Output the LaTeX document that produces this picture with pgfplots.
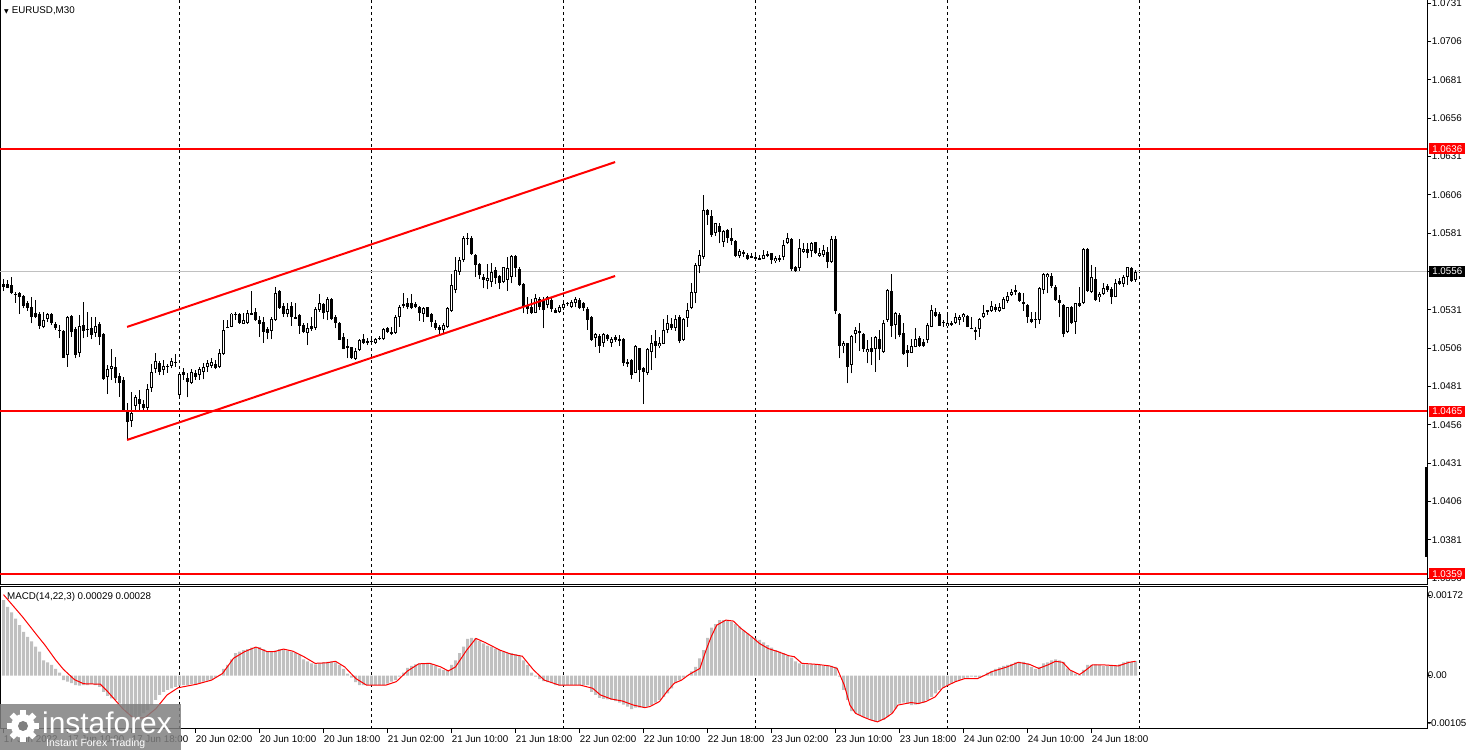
\documentclass[border=0pt]{standalone}
\usepackage{fontspec}
\setmainfont{Liberation Sans}
\newfontfamily\dejavu{DejaVu Sans}
\usepackage{pgfplots}
\usepackage{pgfplotstable}
\pgfplotsset{compat=1.18}

\definecolor{silver}{RGB}{192,192,192}
\definecolor{mtred}{RGB}{255,0,0}
\newcommand\mtfont{\fontsize{9.8}{11}\selectfont}

% EURUSD M30 candles: index, open, high, low, close
\pgfplotstableread{
n o h l c
0 1.05479 1.05511 1.05433 1.05461
1 1.05477 1.05505 1.05450 1.05457
2 1.05472 1.05522 1.05413 1.05418
3 1.05413 1.05429 1.05357 1.05411
4 1.05418 1.05429 1.05283 1.05392
5 1.05400 1.05407 1.05320 1.05335
6 1.05357 1.05370 1.05305 1.05320
7 1.05331 1.05396 1.05222 1.05266
8 1.05287 1.05374 1.05255 1.05266
9 1.05281 1.05298 1.05185 1.05207
10 1.05200 1.05298 1.05190 1.05244
11 1.05248 1.05292 1.05233 1.05281
12 1.05287 1.05292 1.05211 1.05222
13 1.05222 1.05233 1.05179 1.05190
14 1.05179 1.05211 1.05124 1.05174
15 1.05174 1.05179 1.04998 1.04998
16 1.05016 1.05270 1.04940 1.05266
17 1.05270 1.05277 1.05135 1.05168
18 1.05185 1.05200 1.04994 1.05016
19 1.05031 1.05277 1.05000 1.05207
20 1.05209 1.05363 1.05124 1.05174
21 1.05190 1.05298 1.05135 1.05179
22 1.05190 1.05266 1.05118 1.05146
23 1.05157 1.05266 1.05135 1.05207
24 1.05218 1.05233 1.05081 1.05135
25 1.05153 1.05157 1.04853 1.04859
26 1.04870 1.04950 1.04761 1.04924
27 1.04926 1.05053 1.04853 1.04948
28 1.04940 1.05005 1.04831 1.04870
29 1.04879 1.04900 1.04744 1.04837
30 1.04853 1.04874 1.04653 1.04657
31 1.04657 1.04700 1.04461 1.04581
32 1.04587 1.04776 1.04548 1.04640
33 1.04683 1.04755 1.04657 1.04744
34 1.04733 1.04787 1.04657 1.04696
35 1.04696 1.04722 1.04653 1.04668
36 1.04674 1.04826 1.04657 1.04792
37 1.04798 1.04957 1.04776 1.04907
38 1.04922 1.05031 1.04900 1.04979
39 1.04966 1.04977 1.04885 1.04907
40 1.04918 1.04983 1.04885 1.04944
41 1.04940 1.04957 1.04900 1.04942
42 1.04944 1.04994 1.04929 1.04979
43 1.04966 1.05022 1.04940 1.04968
44 1.04755 1.04907 1.04748 1.04892
45 1.04903 1.04929 1.04853 1.04885
46 1.04870 1.04896 1.04740 1.04842
47 1.04835 1.04922 1.04826 1.04907
48 1.04903 1.04918 1.04853 1.04874
49 1.04885 1.04940 1.04853 1.04922
50 1.04907 1.04966 1.04857 1.04935
51 1.04940 1.04983 1.04907 1.04966
52 1.04944 1.04994 1.04929 1.04970
53 1.04961 1.04983 1.04922 1.04929
54 1.04940 1.05053 1.04929 1.05031
55 1.05022 1.05244 1.05016 1.05183
56 1.05196 1.05244 1.05190 1.05200
57 1.05200 1.05292 1.05196 1.05287
58 1.05287 1.05298 1.05244 1.05277
59 1.05281 1.05292 1.05218 1.05227
60 1.05222 1.05292 1.05218 1.05244
61 1.05227 1.05309 1.05218 1.05287
62 1.05287 1.05433 1.05277 1.05283
63 1.05298 1.05324 1.05240 1.05248
64 1.05244 1.05270 1.05135 1.05222
65 1.05233 1.05266 1.05096 1.05168
66 1.05183 1.05200 1.05118 1.05157
67 1.05174 1.05266 1.05118 1.05248
68 1.05244 1.05457 1.05240 1.05418
69 1.05433 1.05440 1.05316 1.05324
70 1.05335 1.05353 1.05266 1.05287
71 1.05287 1.05353 1.05261 1.05320
72 1.05335 1.05363 1.05207 1.05266
73 1.05255 1.05353 1.05248 1.05266
74 1.05277 1.05281 1.05153 1.05205
75 1.05211 1.05222 1.05157 1.05168
76 1.05157 1.05222 1.05081 1.05190
77 1.05207 1.05261 1.05174 1.05185
78 1.05190 1.05331 1.05179 1.05320
79 1.05309 1.05413 1.05298 1.05353
80 1.05346 1.05353 1.05248 1.05287
81 1.05298 1.05396 1.05244 1.05385
82 1.05379 1.05385 1.05244 1.05248
83 1.05266 1.05277 1.05190 1.05227
84 1.05227 1.05233 1.05113 1.05118
85 1.05135 1.05157 1.05053 1.05059
86 1.05076 1.05118 1.04994 1.05059
87 1.05066 1.05070 1.04990 1.04994
88 1.04994 1.05059 1.04983 1.05042
89 1.05048 1.05118 1.05044 1.05113
90 1.05118 1.05153 1.05087 1.05092
91 1.05107 1.05124 1.05081 1.05096
92 1.05107 1.05118 1.05092 1.05109
93 1.05096 1.05129 1.05087 1.05118
94 1.05124 1.05140 1.05113 1.05126
95 1.05118 1.05190 1.05113 1.05183
96 1.05190 1.05200 1.05161 1.05168
97 1.05157 1.05200 1.05146 1.05168
98 1.05157 1.05277 1.05153 1.05266
99 1.05266 1.05342 1.05200 1.05331
100 1.05342 1.05418 1.05320 1.05344
101 1.05353 1.05385 1.05313 1.05327
102 1.05353 1.05411 1.05313 1.05324
103 1.05348 1.05363 1.05320 1.05331
104 1.05331 1.05335 1.05240 1.05287
105 1.05283 1.05327 1.05233 1.05320
106 1.05327 1.05331 1.05261 1.05266
107 1.05281 1.05292 1.05200 1.05233
108 1.05227 1.05244 1.05179 1.05190
109 1.05200 1.05211 1.05140 1.05179
110 1.05183 1.05222 1.05153 1.05211
111 1.05200 1.05331 1.05190 1.05320
112 1.05305 1.05544 1.05298 1.05472
113 1.05440 1.05653 1.05418 1.05570
114 1.05559 1.05653 1.05537 1.05635
115 1.05635 1.05792 1.05624 1.05783
116 1.05777 1.05813 1.05733 1.05779
117 1.05777 1.05792 1.05668 1.05674
118 1.05668 1.05674 1.05527 1.05603
119 1.05609 1.05618 1.05509 1.05537
120 1.05522 1.05544 1.05450 1.05505
121 1.05500 1.05609 1.05444 1.05522
122 1.05494 1.05613 1.05461 1.05559
123 1.05570 1.05587 1.05479 1.05522
124 1.05531 1.05537 1.05444 1.05483
125 1.05494 1.05592 1.05483 1.05587
126 1.05505 1.05657 1.05435 1.05587
127 1.05527 1.05668 1.05483 1.05661
128 1.05661 1.05668 1.05527 1.05581
129 1.05581 1.05587 1.05466 1.05472
130 1.05479 1.05483 1.05287 1.05335
131 1.05342 1.05396 1.05283 1.05320
132 1.05331 1.05379 1.05283 1.05287
133 1.05292 1.05413 1.05287 1.05392
134 1.05385 1.05396 1.05309 1.05331
135 1.05374 1.05396 1.05190 1.05309
136 1.05342 1.05400 1.05320 1.05396
137 1.05379 1.05385 1.05298 1.05320
138 1.05309 1.05320 1.05287 1.05292
139 1.05298 1.05342 1.05292 1.05331
140 1.05320 1.05357 1.05309 1.05346
141 1.05353 1.05363 1.05335 1.05355
142 1.05331 1.05374 1.05320 1.05363
143 1.05353 1.05396 1.05327 1.05385
144 1.05374 1.05385 1.05313 1.05320
145 1.05353 1.05363 1.05305 1.05320
146 1.05320 1.05331 1.05179 1.05244
147 1.05266 1.05270 1.05109 1.05113
148 1.05131 1.05157 1.05070 1.05153
149 1.05140 1.05153 1.05031 1.05074
150 1.05092 1.05157 1.05070 1.05153
151 1.05146 1.05153 1.05109 1.05118
152 1.05092 1.05135 1.05070 1.05118
153 1.05135 1.05146 1.05103 1.05113
154 1.05118 1.05146 1.05074 1.05116
155 1.05118 1.05124 1.04944 1.04966
156 1.04972 1.04987 1.04940 1.04957
157 1.04983 1.04987 1.04857 1.04885
158 1.04900 1.05081 1.04896 1.05074
159 1.05059 1.05063 1.04842 1.04918
160 1.04929 1.04940 1.04696 1.04907
161 1.04900 1.05059 1.04885 1.05053
162 1.05037 1.05146 1.04918 1.05096
163 1.05109 1.05179 1.04994 1.05074
164 1.05074 1.05135 1.05059 1.05092
165 1.05092 1.05248 1.05087 1.05183
166 1.05179 1.05277 1.05157 1.05222
167 1.05218 1.05255 1.05179 1.05190
168 1.05190 1.05277 1.05174 1.05248
169 1.05261 1.05277 1.05092 1.05109
170 1.05113 1.05255 1.05109 1.05248
171 1.05261 1.05353 1.05200 1.05309
172 1.05320 1.05483 1.05313 1.05429
173 1.05418 1.05613 1.05353 1.05603
174 1.05596 1.05700 1.05548 1.05668
175 1.05657 1.06059 1.05640 1.05966
176 1.05961 1.05966 1.05864 1.05929
177 1.05922 1.05961 1.05787 1.05798
178 1.05809 1.05879 1.05792 1.05874
179 1.05857 1.05879 1.05744 1.05820
180 1.05755 1.05831 1.05722 1.05827
181 1.05831 1.05835 1.05748 1.05777
182 1.05777 1.05846 1.05733 1.05761
183 1.05759 1.05766 1.05653 1.05661
184 1.05661 1.05705 1.05646 1.05696
185 1.05690 1.05700 1.05657 1.05679
186 1.05668 1.05679 1.05635 1.05646
187 1.05657 1.05679 1.05646 1.05655
188 1.05653 1.05668 1.05640 1.05650
189 1.05650 1.05668 1.05635 1.05640
190 1.05646 1.05700 1.05640 1.05668
191 1.05674 1.05696 1.05653 1.05661
192 1.05679 1.05683 1.05609 1.05635
193 1.05629 1.05661 1.05618 1.05650
194 1.05646 1.05668 1.05624 1.05635
195 1.05657 1.05766 1.05635 1.05733
196 1.05748 1.05813 1.05740 1.05777
197 1.05770 1.05777 1.05566 1.05574
198 1.05587 1.05596 1.05559 1.05566
199 1.05581 1.05770 1.05566 1.05711
200 1.05690 1.05744 1.05683 1.05711
201 1.05711 1.05748 1.05646 1.05683
202 1.05696 1.05755 1.05653 1.05744
203 1.05750 1.05755 1.05674 1.05679
204 1.05666 1.05711 1.05657 1.05683
205 1.05668 1.05733 1.05657 1.05700
206 1.05690 1.05722 1.05581 1.05624
207 1.05624 1.05792 1.05618 1.05777
208 1.05770 1.05792 1.05283 1.05305
209 1.05287 1.05292 1.04994 1.05074
210 1.05074 1.05109 1.05027 1.05096
211 1.05092 1.05096 1.04831 1.04940
212 1.04950 1.05146 1.04896 1.05140
213 1.05153 1.05200 1.05092 1.05183
214 1.05168 1.05222 1.05044 1.05170
215 1.05157 1.05161 1.05037 1.05053
216 1.05037 1.05113 1.04961 1.05053
217 1.05059 1.05135 1.04950 1.05037
218 1.05059 1.05140 1.04907 1.05135
219 1.05124 1.05179 1.04983 1.05059
220 1.05037 1.05244 1.05031 1.05227
221 1.05244 1.05444 1.05233 1.05440
222 1.05433 1.05544 1.05135 1.05205
223 1.05211 1.05298 1.05118 1.05287
224 1.05281 1.05287 1.05131 1.05146
225 1.05157 1.05227 1.05016 1.05022
226 1.05048 1.05081 1.04940 1.05031
227 1.05031 1.05118 1.05027 1.05076
228 1.05070 1.05190 1.05066 1.05118
229 1.05131 1.05140 1.05070 1.05074
230 1.05103 1.05118 1.05070 1.05074
231 1.05113 1.05222 1.05092 1.05211
232 1.05200 1.05342 1.05196 1.05309
233 1.05298 1.05320 1.05261 1.05270
234 1.05283 1.05298 1.05205 1.05207
235 1.05227 1.05244 1.05200 1.05229
236 1.05207 1.05277 1.05190 1.05222
237 1.05220 1.05240 1.05207 1.05222
238 1.05227 1.05292 1.05218 1.05266
239 1.05244 1.05277 1.05211 1.05266
240 1.05266 1.05287 1.05233 1.05281
241 1.05270 1.05277 1.05196 1.05200
242 1.05190 1.05261 1.05183 1.05192
243 1.05183 1.05200 1.05113 1.05168
244 1.05183 1.05255 1.05135 1.05248
245 1.05261 1.05342 1.05255 1.05292
246 1.05303 1.05309 1.05277 1.05305
247 1.05305 1.05370 1.05298 1.05335
248 1.05331 1.05348 1.05298 1.05309
249 1.05305 1.05357 1.05298 1.05331
250 1.05320 1.05396 1.05313 1.05385
251 1.05370 1.05429 1.05357 1.05400
252 1.05407 1.05444 1.05400 1.05429
253 1.05440 1.05472 1.05407 1.05429
254 1.05422 1.05429 1.05363 1.05370
255 1.05363 1.05422 1.05305 1.05353
256 1.05342 1.05348 1.05227 1.05261
257 1.05248 1.05298 1.05222 1.05233
258 1.05248 1.05298 1.05190 1.05250
259 1.05244 1.05461 1.05218 1.05450
260 1.05440 1.05548 1.05413 1.05542
261 1.05527 1.05548 1.05418 1.05542
262 1.05531 1.05548 1.05450 1.05466
263 1.05461 1.05472 1.05370 1.05374
264 1.05374 1.05407 1.05261 1.05353
265 1.05342 1.05348 1.05131 1.05153
266 1.05168 1.05331 1.05161 1.05327
267 1.05327 1.05335 1.05218 1.05227
268 1.05233 1.05357 1.05153 1.05353
269 1.05357 1.05461 1.05331 1.05335
270 1.05353 1.05716 1.05348 1.05711
271 1.05705 1.05711 1.05429 1.05433
272 1.05429 1.05603 1.05422 1.05522
273 1.05509 1.05587 1.05370 1.05374
274 1.05392 1.05429 1.05363 1.05413
275 1.05413 1.05487 1.05407 1.05457
276 1.05466 1.05479 1.05429 1.05440
277 1.05450 1.05457 1.05348 1.05392
278 1.05396 1.05509 1.05392 1.05487
279 1.05500 1.05516 1.05472 1.05483
280 1.05479 1.05537 1.05461 1.05522
281 1.05522 1.05592 1.05472 1.05587
282 1.05581 1.05587 1.05494 1.05500
283 1.05505 1.05570 1.05494 1.05559
}\candles

% MACD(14,22,3) main line (histogram)
\pgfplotstableread{
n v
0 0.00148
1 0.00135
2 0.00124
3 0.00112
4 0.00099
5 0.00086
6 0.00076
7 0.00067
8 0.00057
9 0.00047
10 0.00030
11 0.00026
12 0.00021
13 0.00013
14 0.00006
15 -0.00009
16 -0.00012
17 -0.00015
18 -0.00019
19 -0.00020
20 -0.00019
21 -0.00019
22 -0.00017
23 -0.00019
24 -0.00022
25 -0.00032
26 -0.00040
27 -0.00045
28 -0.00048
29 -0.00055
30 -0.00065
31 -0.00074
32 -0.00081
33 -0.00084
34 -0.00079
35 -0.00074
36 -0.00068
37 -0.00058
38 -0.00048
39 -0.00038
40 -0.00032
41 -0.00028
42 -0.00025
43 -0.00022
44 -0.00020
45 -0.00019
46 -0.00019
47 -0.00017
48 -0.00017
49 -0.00015
50 -0.00012
51 -0.00010
52 -0.00008
53 -0.00004
54 0.00001
55 0.00013
56 0.00021
57 0.00032
58 0.00044
59 0.00047
60 0.00050
61 0.00052
62 0.00055
63 0.00056
64 0.00056
65 0.00052
66 0.00048
67 0.00047
68 0.00049
69 0.00052
70 0.00051
71 0.00049
72 0.00047
73 0.00044
74 0.00040
75 0.00032
76 0.00028
77 0.00024
78 0.00022
79 0.00024
80 0.00026
81 0.00027
82 0.00028
83 0.00026
84 0.00021
85 0.00013
86 0.00004
87 -0.00004
88 -0.00013
89 -0.00019
90 -0.00019
91 -0.00019
92 -0.00019
93 -0.00019
94 -0.00019
95 -0.00019
96 -0.00016
97 -0.00012
98 -0.00009
99 -0.00002
100 0.00006
101 0.00015
102 0.00019
103 0.00022
104 0.00024
105 0.00024
106 0.00024
107 0.00023
108 0.00019
109 0.00014
110 0.00011
111 0.00011
112 0.00021
113 0.00030
114 0.00044
115 0.00057
116 0.00072
117 0.00074
118 0.00073
119 0.00068
120 0.00063
121 0.00059
122 0.00057
123 0.00053
124 0.00050
125 0.00047
126 0.00044
127 0.00044
128 0.00042
129 0.00039
130 0.00030
131 0.00021
132 0.00006
133 -0.00002
134 -0.00007
135 -0.00011
136 -0.00013
137 -0.00015
138 -0.00019
139 -0.00020
140 -0.00020
141 -0.00019
142 -0.00019
143 -0.00019
144 -0.00019
145 -0.00019
146 -0.00019
147 -0.00032
148 -0.00038
149 -0.00044
150 -0.00046
151 -0.00047
152 -0.00048
153 -0.00050
154 -0.00053
155 -0.00057
156 -0.00061
157 -0.00066
158 -0.00063
159 -0.00063
160 -0.00063
161 -0.00061
162 -0.00058
163 -0.00053
164 -0.00048
165 -0.00042
166 -0.00035
167 -0.00025
168 -0.00015
169 -0.00009
170 -0.00004
171 0.00001
172 0.00008
173 0.00017
174 0.00034
175 0.00050
176 0.00074
177 0.00094
178 0.00101
179 0.00109
180 0.00109
181 0.00109
182 0.00106
183 0.00101
184 0.00096
185 0.00089
186 0.00083
187 0.00076
188 0.00073
189 0.00070
190 0.00065
191 0.00060
192 0.00055
193 0.00050
194 0.00047
195 0.00044
196 0.00039
197 0.00035
198 0.00028
199 0.00024
200 0.00022
201 0.00022
202 0.00022
203 0.00022
204 0.00021
205 0.00019
206 0.00019
207 0.00019
208 0.00017
209 -0.00002
210 -0.00028
211 -0.00048
212 -0.00070
213 -0.00074
214 -0.00078
215 -0.00081
216 -0.00084
217 -0.00087
218 -0.00091
219 -0.00089
220 -0.00087
221 -0.00081
222 -0.00074
223 -0.00065
224 -0.00055
225 -0.00053
226 -0.00055
227 -0.00058
228 -0.00057
229 -0.00055
230 -0.00053
231 -0.00048
232 -0.00042
233 -0.00035
234 -0.00028
235 -0.00024
236 -0.00020
237 -0.00015
238 -0.00012
239 -0.00009
240 -0.00006
241 -0.00004
242 -0.00002
243 -0.00003
244 -0.00004
245 0.00001
246 0.00006
247 0.00009
248 0.00013
249 0.00016
250 0.00019
251 0.00021
252 0.00023
253 0.00026
254 0.00027
255 0.00027
256 0.00024
257 0.00017
258 0.00013
259 0.00017
260 0.00024
261 0.00026
262 0.00030
263 0.00032
264 0.00030
265 0.00027
266 0.00014
267 0.00009
268 0.00004
269 0.00002
270 0.00011
271 0.00021
272 0.00021
273 0.00022
274 0.00021
275 0.00019
276 0.00019
277 0.00019
278 0.00019
279 0.00022
280 0.00026
281 0.00028
282 0.00027
283 0.00029
}\macd

\begin{document}
\begin{tikzpicture}[x=1bp,y=1bp]
\path[use as bounding box] (0,0) rectangle (1468,750);

\pgfplotsset{
  mt/.style={
    scale only axis, clip=false, width=1427bp,
    xmin=-0.875, xmax=355.875,
    line width=1bp,
    axis line style={line width=1bp, black},
    tick style={line width=1bp, black},
    tick align=outside, major tick length=4bp,
    ytick pos=right, yticklabel pos=right,
    tick label style={font=\mtfont, text=black},
    yticklabel style={xshift=-3bp},
    scaled y ticks=false,
    major grid style={dash pattern=on 3bp off 3bp, line width=1bp, black},
  },
  cndl/.style={draw=none, mark=none, no markers, forget plot},
}

% ---- price window ----
\begin{axis}[mt,
  at={(0bp,165bp)}, anchor=south west, height=585bp,
  ymin=1.03516, ymax=1.07331,
  xtick={44,92,140,188,236,284}, xticklabels={}, xmajorgrids,
  xtick style={draw=none},
  ytick={1.0356,1.0381,1.0406,1.0431,1.0456,1.0481,1.0506,1.0531,1.0556,1.0581,1.0606,1.0631,1.0656,1.0681,1.0706,1.0731},
  yticklabels={1.0356,1.0381,1.0406,1.0431,1.0456,1.0481,1.0506,1.0531,1.0556,1.0581,1.0606,1.0631,1.0656,1.0681,1.0706,1.0731},
]
% bid line
\addplot[silver, line width=1bp, forget plot] coordinates {(-0.875,1.0556) (355.875,1.0556)};

% wicks
\addplot[cndl, error bars/.cd, y dir=plus, y explicit, error mark=none,
  error bar style={line width=1bp, draw=black, solid}]
  table[x=n, y=l, y error expr=\thisrow{h}-\thisrow{l}] {\candles};
% bodies
\addplot[cndl, error bars/.cd, y dir=both, y explicit, error mark=none,
  error bar style={line width=3bp, draw=black, solid}]
  table[x=n, y expr=(\thisrow{o}+\thisrow{c})/2,
        y error expr={max(abs(\thisrow{c}-\thisrow{o})/2,0.0000326)}] {\candles};
% hollow inside of bull candles
\addplot[cndl, error bars/.cd, y dir=both, y explicit, error mark=none,
  error bar style={line width=1bp, draw=white, solid}]
  table[x=n, y expr=(\thisrow{o}+\thisrow{c})/2,
        y error expr={max((\thisrow{c}-\thisrow{o})/2-0.0000652,0)}] {\candles};

% levels
\addplot[mtred, line width=2bp, forget plot] coordinates {(-0.875,1.0636) (355.875,1.0636)};
\addplot[mtred, line width=2bp, forget plot] coordinates {(-0.875,1.0465) (355.875,1.0465)};
\addplot[mtred, line width=2bp, forget plot] coordinates {(-0.875,1.0359) (355.875,1.0359)};
% channel
\addplot[mtred, line width=2bp, forget plot] coordinates {(30.9,1.05199) (152.9,1.06274)};
\addplot[mtred, line width=2bp, forget plot] coordinates {(30.9,1.04462) (152.9,1.05531)};

\coordinate (r1) at (axis cs:355.875,1.0636);
\coordinate (r2) at (axis cs:355.875,1.0465);
\coordinate (r3) at (axis cs:355.875,1.0359);
\coordinate (bk) at (axis cs:355.875,1.0556);
\end{axis}

% ---- MACD window ----
\begin{axis}[mt,
  at={(0bp,21bp)}, anchor=south west, height=142bp,
  ymin=-0.00105, ymax=0.00174,
  xtick={0,16,...,272},
  xticklabels={17 Jun 2022,17 Jun 10:00,17 Jun 18:00,20 Jun 02:00,20 Jun 10:00,20 Jun 18:00,21 Jun 02:00,21 Jun 10:00,21 Jun 18:00,22 Jun 02:00,22 Jun 10:00,22 Jun 18:00,23 Jun 02:00,23 Jun 10:00,23 Jun 18:00,24 Jun 02:00,24 Jun 10:00,24 Jun 18:00},
  xtick pos=bottom,
  xticklabel style={anchor=north west, xshift=-3.5bp, yshift=1bp},
  extra x ticks={44,92,140,188,236,284}, extra x tick labels={},
  extra x tick style={grid=major, xtick style={draw=none}},
  ytick={-0.000927,0,0.001582}, yticklabels={-0.00105,0.00,0.00172},
  yticklabel style={xshift=-4bp},
]
\addplot[ybar, bar width=3bp, fill=silver, draw=none, forget plot] table[x=n, y=v] {\macd};
\addplot[mtred, line width=1bp] coordinates {
(0,0.00159) (4.8,0.00115) (8.5,0.00078) (10.35,0.00060) (13.1,0.00030) (15,0.00012)
(17.75,-0.00008) (20,-0.00016) (24.2,-0.00017) (26.1,-0.00032) (29.8,-0.00065)
(32.55,-0.00084) (35.3,-0.00083) (38.1,-0.00065) (40.9,-0.00038) (43.65,-0.00024)
(48.3,-0.00017) (52,-0.00009) (54.75,0.00004) (57.5,0.00034) (60.3,0.00047)
(63.1,0.00056) (65.9,0.00047) (67.7,0.00047) (70,0.00052) (72.3,0.00048)
(75.1,0.00037) (77.9,0.00024) (80.7,0.00025) (83,0.00028) (85.3,0.00017)
(88.1,-0.00006) (90.8,-0.00019) (95.5,-0.00019) (98.2,-0.00012) (101,0.00009)
(103.8,0.00023) (106.6,0.00024) (109.3,0.00017) (111.2,0.00009) (113,0.00017)
(115.8,0.00050) (118.1,0.00073) (120.4,0.00065) (124.1,0.00050) (126.9,0.00042)
(129.7,0.00038) (132.5,0.00011) (135.2,-0.00009) (139,-0.00019) (144.3,-0.00019)
(147.3,-0.00025) (149.2,-0.00038) (151.9,-0.00046) (154.7,-0.00050) (157.5,-0.00058)
(160.3,-0.00063) (161.6,-0.00061) (164,-0.00051) (165.8,-0.00032) (167.7,-0.00015)
(169.5,-0.00009) (171.4,0.00002) (174.1,0.00014) (175.5,0.00047) (176.9,0.00076)
(178.3,0.00099) (180.6,0.00109) (182.5,0.00107) (184.3,0.00093) (187.1,0.00076)
(189,0.00063) (191.2,0.00053) (193.6,0.00047) (196.3,0.00039) (197.7,0.00037)
(199.6,0.00024) (203.3,0.00022) (206.5,0.00019) (208.4,0.00014) (210.2,-0.00019)
(211.6,-0.00058) (213,-0.00074) (214.8,-0.00081) (216.7,-0.00087) (218.5,-0.00091)
(220.4,-0.00084) (222.2,-0.00074) (223.6,-0.00058) (226.9,-0.00053) (228.7,-0.00055)
(230.6,-0.00051) (232.9,-0.00042) (234.7,-0.00025) (236.1,-0.00019) (238,-0.00012)
(240.3,-0.00006) (243.5,-0.00006) (245.4,0.00001) (247.2,0.00008) (250.9,0.00017)
(253.7,0.00026) (256.5,0.00022) (258.8,0.00014) (261.1,0.00021) (263,0.00028)
(264.8,0.00026) (266.6,0.00011) (269,0.00002) (270.3,0.00009) (272.2,0.00021)
(275,0.00021) (278.7,0.00019) (281.4,0.00026) (283,0.00028)};
\end{axis}

% price labels on the right scale
\foreach \p/\t/\col in {r1/1.0636/mtred, r2/1.0465/mtred, r3/1.0359/mtred, bk/1.0556/black}
  \node[fill=\col, text=white, anchor=west, xshift=2bp, inner sep=0pt,
        minimum width=36bp, minimum height=11bp, font=\mtfont] at (\p) {\t};

% scroll marker on the scale
\draw[line width=3bp] (1426,283) -- (1426,193);

% window captions
\node[anchor=west, inner sep=0pt, font=\mtfont] at (4,739.5)
  {{\dejavu\fontsize{6}{6}\selectfont ▼}\hspace{3bp}EURUSD,M30};
\node[anchor=west, inner sep=0pt, font=\mtfont] at (7,153) {MACD(14,22,3) 0.00029 0.00028};

% watermark
\fill[gray, opacity=0.85] (0,0) rectangle (181,46);
\fill[white] (23,24) circle (12);
\foreach \a in {0,45,...,315}
  \fill[white, rotate around={\a:(23,24)}] (20,33) rectangle (26,40);
\fill[gray] (23,24) circle (5);
\node[anchor=west, inner sep=0pt, text=white, font=\fontsize{30}{30}\selectfont] at (42,27) {instaforex};
\node[anchor=west, inner sep=0pt, text=white, font=\fontsize{10.5}{11}\selectfont] at (46,6) {Instant Forex Trading};
\end{tikzpicture}
\end{document}
